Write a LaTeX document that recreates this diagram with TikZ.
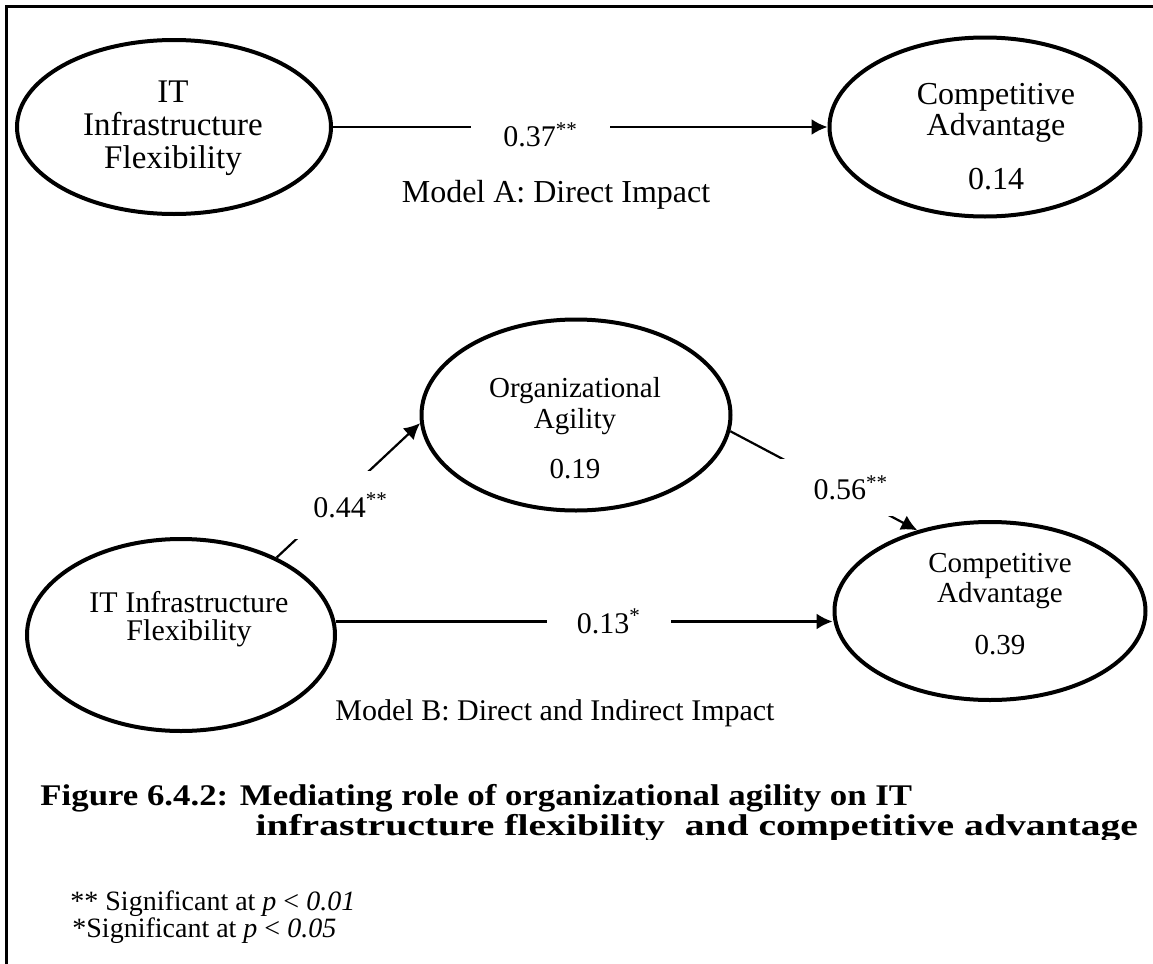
\documentclass[tikz,border=0pt]{standalone}
\usepackage{fontspec}
\setmainfont{Liberation Serif}
\usetikzlibrary{shapes.geometric,arrows.meta}

\begin{document}
\begin{tikzpicture}[x=0.5pt, y=-0.5pt, >={Latex[length=8pt,width=8pt]},
  latent/.style={ellipse, draw, line width=2pt, inner sep=0pt},
  txt/.style={align=center, inner sep=0pt},
  coef/.style={fill=white, inner sep=#1, font=\fontsize{15}{15}\selectfont},
  coef/.default=10pt,
  link/.style={->, line width=1.1pt}]
\useasboundingbox (0,0) rectangle (1153,964);
\draw[line width=1.5pt] (1153,6) -- (6,6) -- (6,964);

% Model A
\node[latent, minimum width=157pt, minimum height=87pt] (itfA) at (174,127) {};
\node[txt, font=\fontsize{16.5}{16.5}\selectfont] (itfAt) at (173,128) {IT\\Infrastructure\\Flexibility};
\node[latent, minimum width=155.5pt, minimum height=89.5pt] (caA) at (985,127) {};
\node[txt, font=\fontsize{16}{14}\selectfont] (caAt) at (996,137) {Competitive\\Advantage\\[12pt]0.14};

\draw[link] (itfA.east) -- (caA.west) node[coef=16pt, pos=.42, yshift=-4pt] {0.37\textsuperscript{**}};
\node[font=\fontsize{16}{16}\selectfont] (modelA) at (556,195) {Model A: Direct Impact};

% Model B
\node[latent, minimum width=154.5pt, minimum height=95.5pt] (oa) at (576,415) {};
\node[txt, font=\fontsize{14.5}{15.5}\selectfont] (oat) at (575,428) {Organizational\\Agility\\[9.5pt]0.19};
\node[latent, minimum width=154pt, minimum height=96pt] (itfB) at (181,635) {};
\node[txt, font=\fontsize{15}{14}\selectfont] (itfBt) at (189,619) {IT Infrastructure\\Flexibility};
\node[latent, minimum width=155.5pt, minimum height=89pt] (caB) at (990,611) {};
\node[txt, font=\fontsize{14.5}{15}\selectfont] (caBt) at (1000,604) {Competitive\\Advantage\\[11pt]0.39};

\draw[link] (itfB.39.5) -- (oa.183) node[coef=11pt, pos=.39] {\hspace*{18pt}0.44\textsuperscript{**}};
\draw[link] (oa.-6.2) -- (caB.132.6) node[coef=8pt, pos=.57] {\hspace*{14pt}0.56\textsuperscript{**}};
\draw[link] (itfB.5.5) -- (itfB.5.5 -| caB.west) node[coef=15pt, pos=.55] {0.13\textsuperscript{*}};
\node[font=\fontsize{15}{15}\selectfont] (modelB) at (555,713) {Model B: Direct and Indirect Impact};

% caption and notes
\node[anchor=base west, inner sep=0pt, font=\bfseries\fontsize{15}{15}\selectfont, xscale=1.16, transform shape] (capA) at (40,805) {Figure 6.4.2: Mediating role of organizational agility on IT};
\begin{scope}
\clip (0,0) rectangle (1153,839);
\node[anchor=base west, inner sep=0pt, font=\bfseries\fontsize{15}{15}\selectfont, xscale=1.32, transform shape] (capB) at (255,835) {infrastructure flexibility\ \ and competitive advantage};
\end{scope}
\node[anchor=base west, inner sep=0pt, font=\fontsize{14}{14}\selectfont] (noteA) at (70,910) {** Significant at \textit{p} < \textit{0.01}};
\node[anchor=base west, inner sep=0pt, font=\fontsize{14}{14}\selectfont] (noteB) at (72,937) {*Significant at \textit{p} < \textit{0.05}};
\end{tikzpicture}
\end{document}
